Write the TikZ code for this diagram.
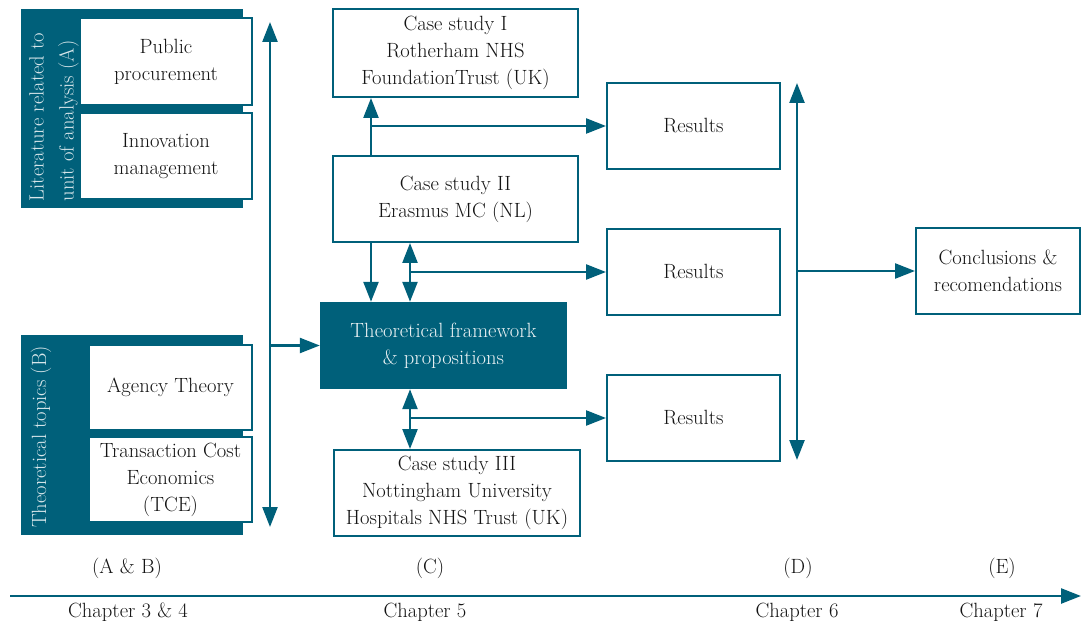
\documentclass[tikz,border=0pt]{standalone}
\usetikzlibrary{arrows.meta}
\definecolor{teal1}{RGB}{0,96,122}
\definecolor{ink}{RGB}{20,20,20}
\begin{document}
\begin{tikzpicture}[x=1pt,y=-1pt,
  txt/.style={font=\fontsize{20.6}{27}\selectfont, text=ink, align=center},
  wbox/.style={txt, draw=teal1, line width=2pt, fill=white, inner sep=0pt},
  panel/.style={fill=teal1, draw=none},
  ptxt/.style={font=\fontsize{20.6}{30}\selectfont, text=white!85!teal1, align=left, rotate=90},
  arr/.style={draw=teal1, line width=2.4pt, -{Triangle[length=20pt,width=15pt]}},
  darr/.style={draw=teal1, line width=2.4pt, {Triangle[length=20pt,width=15pt]}-{Triangle[length=20pt,width=15pt]}},
  lbl/.style={font=\fontsize{20.6}{27}\selectfont, text=ink}]
\useasboundingbox (0,0) rectangle (1081,628);
\fill[white] (0,0) rectangle (1081,628);

% left panels
\path[panel] (21,9) rectangle (243,208);
\path[panel] (21,335) rectangle (243,535);
\node[ptxt] (pa) at (54,117) {Literature related to\\unit of analysis (A)};
\node[ptxt] (pb) at (41,437) {Theoretical topics (B)};
\node[wbox, minimum width=172pt, minimum height=87pt] (pp) at (166,61.5) {Public\\procurement};
\node[wbox, minimum width=172pt, minimum height=86pt] (im) at (166,156) {Innovation\\management};
\node[wbox, minimum width=163pt, minimum height=85pt] (at) at (170.5,387.5) {Agency Theory};
\node[wbox, minimum width=163pt, minimum height=85pt] (tce) at (170.5,479.5) {Transaction Cost\\Economics\\(TCE)};

% case studies
\node[wbox, minimum width=245pt, minimum height=88pt] (cs1) at (455.5,53) {Case study I\\Rotherham NHS\\FoundationTrust (UK)};
\node[wbox, minimum width=245pt, minimum height=86pt] (cs2) at (455.5,199) {Case study II\\Erasmus MC (NL)};
\node[wbox, minimum width=246pt, minimum height=86pt] (cs3) at (457,493) {Case study III\\Nottingham University\\Hospitals NHS Trust (UK)};
\node[txt, fill=teal1, text=white!92!teal1, minimum width=247pt, minimum height=87pt, inner sep=0pt] (tf) at (443.5,345.5) {Theoretical framework\\\& propositions};

% results
\node[wbox, minimum width=173pt, minimum height=86pt] (r1) at (693.5,126) {Results};
\node[wbox, minimum width=173pt, minimum height=86pt] (r2) at (693.5,272) {Results};
\node[wbox, minimum width=173pt, minimum height=86pt] (r3) at (693.5,418) {Results};
\node[wbox, minimum width=164pt, minimum height=86pt] (conc) at (998,271) {Conclusions \&\\recomendations};

% left vertical arrow
\coordinate (lt) at (270,22);
\coordinate (lb) at (270,527);
\draw[darr] (lb) -- (lt);
\draw[arr] (lt |- tf.west) -- (tf.west);

% case study arrows
\draw[arr] ([xshift=-84.5pt]cs2.north) -- ([xshift=-84.5pt]cs1.south);
\coordinate (b1) at (371,126);
\draw[arr] (b1) -- (r1.west);
\draw[arr] ([xshift=-84.5pt]cs2.south) -- ([xshift=-72.5pt]tf.north);
\draw[darr] ([xshift=-45.5pt]cs2.south) -- ([xshift=-33.5pt]tf.north);
\coordinate (b2) at (410,272);
\draw[arr] (b2) -- (r2.west);
\draw[darr] ([xshift=-33.5pt]tf.south) -- ([xshift=-47pt]cs3.north);
\coordinate (b3) at (410,418);
\draw[arr] (b3) -- (r3.west);

% right vertical arrow
\coordinate (rt) at (797,83);
\coordinate (rb) at (797,460);
\draw[darr] (rb) -- (rt);
\draw[arr] (rt |- conc.west) -- (conc.west);

% axis
\coordinate (ax1) at (10,596);
\coordinate (ax2) at (1081,596);
\draw[arr] (ax1) -- (ax2);

\node[lbl] (la) at (127,568) {(A \& B)};
\node[lbl] (lc) at (430,568) {(C)};
\node[lbl] (ld) at (798,568) {(D)};
\node[lbl] (le) at (1002,568) {(E)};
\node[lbl] (c1) at (128,612) {Chapter 3 \& 4};
\node[lbl] (c2) at (425,612) {Chapter 5};
\node[lbl] (c3) at (797,612) {Chapter 6};
\node[lbl] (c4) at (1001,612) {Chapter 7};
\end{tikzpicture}
\end{document}
